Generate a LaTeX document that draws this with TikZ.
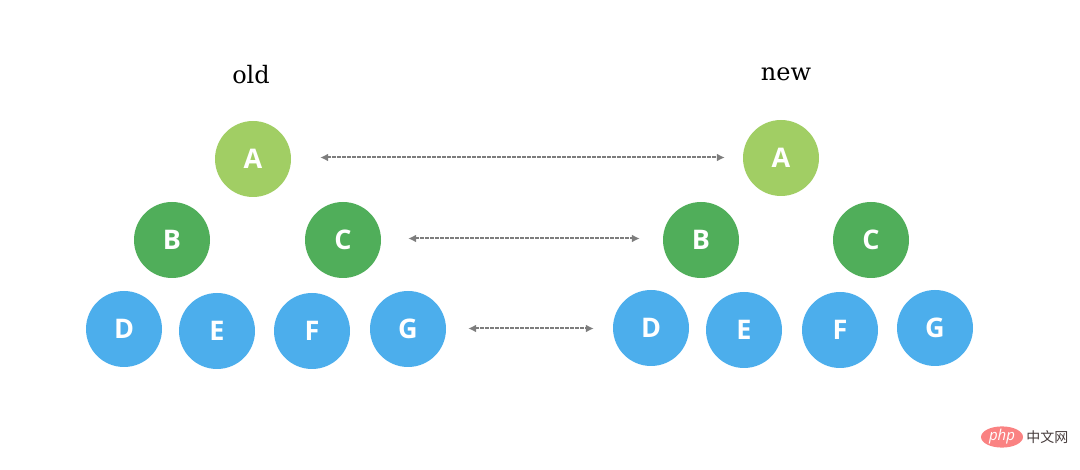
\documentclass[tikz,border=0pt]{standalone}
\usepackage{fontspec}
\setmainfont{DejaVu Serif}
\setsansfont{Open Sans}
\newfontfamily\cjkfont{Noto Sans CJK SC}
\usepackage{tikz}
\usetikzlibrary{positioning,arrows.meta,shapes.geometric}
\definecolor{colorroot}  {RGB}{161,206,100}
\definecolor{colormid}   {RGB}{80,174,90}
\definecolor{colorleaf}  {RGB}{76,174,236}
\definecolor{colorarrow} {RGB}{125,125,125}
\definecolor{colorlogo}  {RGB}{250,130,130}
\definecolor{colormark}  {RGB}{70,60,60}

\begin{document}
\begin{tikzpicture}[
    x=1pt, y=-1pt,
    title/.style={text=black,font={\fontsize{24}{24}\selectfont}},
    base/.style={circle,minimum size=76pt,inner sep=0pt,text=white,
        font={\sffamily\bfseries\fontsize{27}{27}\selectfont}},
    rootnode/.style={base,fill=colorroot},
    midnode/.style={base,fill=colormid},
    leafnode/.style={base,fill=colorleaf},
    link/.style={{Latex[length=8pt,width=8pt]}-{Latex[length=8pt,width=8pt]},
        colorarrow,line width=2pt,dash pattern=on 3.5pt off 1.5pt},
]
    \useasboundingbox (0,0) rectangle (1080,470);

    \node[title] (oldlabel) at (251,75) {old};
    \node[rootnode] (oa) at (253,159) {A};
    \node[midnode] (ob) at (172,240) {B};
    \node[midnode] (oc) at (343,240) {C};
    \node[leafnode] (od) at (124,329) {D};
    \node[leafnode] (oe) at (217,331) {E};
    \node[leafnode] (of) at (312,331) {F};
    \node[leafnode] (og) at (408,329) {G};

    \node[title] (newlabel) at (786,74) {new};
    \node[rootnode] (na) at (781,158) {A};
    \node[midnode] (nb) at (701,240) {B};
    \node[midnode] (nc) at (871,240) {C};
    \node[leafnode] (nd) at (651,328) {D};
    \node[leafnode] (ne) at (744,330) {E};
    \node[leafnode] (nf) at (840,330) {F};
    \node[leafnode] (ng) at (935,328) {G};

    \draw[link,shorten <=29pt,shorten >=18pt] ([yshift=1.5pt]oa.east) -- ([yshift=.5pt]na.west);
    \draw[link,shorten <=27pt,shorten >=23pt] ([yshift=1.5pt]oc.east) -- ([yshift=1.5pt]nb.west);
    \draw[link,shorten <=22pt,shorten >=19pt] ([yshift=.5pt]og.east) -- ([yshift=-.5pt]nd.west);

    % site mark, bottom right
    \node[ellipse,fill=colorlogo,minimum width=42pt,minimum height=21pt,inner sep=0pt,
        text=white,font={\sffamily\itshape\fontsize{15}{15}\selectfont}] (logo) at (1002,437) {php};
    \node[right=3pt of logo,inner sep=0pt,text=colormark,
        font={\cjkfont\fontsize{14}{14}\selectfont}] (marktext) {中文网};
\end{tikzpicture}
\end{document}
